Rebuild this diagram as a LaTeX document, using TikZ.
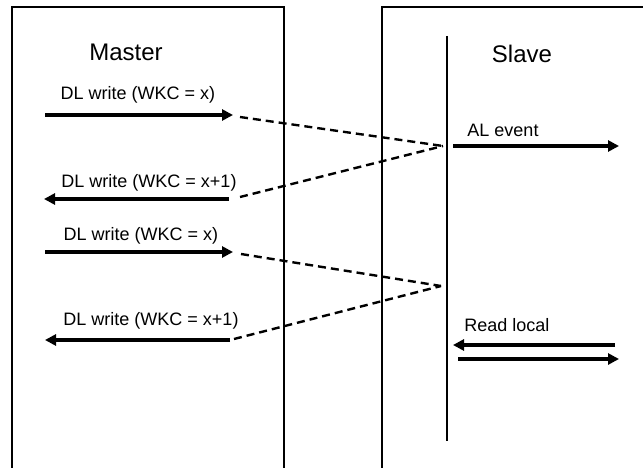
\documentclass[tikz,border=0pt]{standalone}
\usepackage{fontspec}
\setmainfont{Liberation Sans}
\usetikzlibrary{arrows.meta}
\begin{document}
\begin{tikzpicture}[x=1pt,y=-1pt,
  frame/.style={line width=2.4pt},
  msg/.style={line width=4pt,-{Triangle[length=11pt,width=11pt]}},
  link/.style={line width=2.4pt,dash pattern=on 8pt off 5pt},
  lbl/.style={font=\fontsize{18}{20}\selectfont,inner sep=0pt},
  ttl/.style={font=\fontsize{24}{26}\selectfont,inner sep=0pt}]
\useasboundingbox (0,0) rectangle (643,468);
% boxes
\draw[frame] (12,470) -- (12,7) -- (284,7) -- (284,470);
\draw[frame] (382,470) -- (382,7) -- (645,7);
% slave timeline
\coordinate (tlTop) at (447,36);
\coordinate (tlBot) at (447,441);
\draw[frame] (tlTop) -- (tlBot);
% titles
\node[ttl] (master) at (126,52) {Master};
\node[ttl] (slave) at (522,54) {Slave};
% coordinates
\coordinate (a1s) at (45,115);  \coordinate (a1e) at (233,115);
\coordinate (a2s) at (229,199); \coordinate (a2e) at (44,199);
\coordinate (a3s) at (45,252);  \coordinate (a3e) at (233,252);
\coordinate (a4s) at (230,340); \coordinate (a4e) at (45,340);
\coordinate (p1) at (443,146);
\coordinate (p2) at (441,286);
\coordinate (ev1) at (453,146); \coordinate (ev2) at (619,146);
\coordinate (rl1) at (615,345); \coordinate (rl2) at (453,345);
\coordinate (rr1) at (458,359); \coordinate (rr2) at (619,359);
% master arrows
\draw[msg] (a1s) -- (a1e);
\draw[msg] (a2s) -- (a2e);
\draw[msg] (a3s) -- (a3e);
\draw[msg] (a4s) -- (a4e);
% dashed links
\draw[link] (240,117) -- (p1);
\draw[link] (240,197) -- (p1);
\draw[link] (241,254) -- (p2);
\draw[link] (234,339) -- (p2);
% slave arrows
\draw[msg] (ev1) -- (ev2);
\draw[msg] (rl1) -- (rl2);
\draw[msg] (rr1) -- (rr2);
% labels
\node[lbl] (l1) at (138,95) {DL write (WKC = x)};
\node[lbl] (l2) at (149,183) {DL write (WKC = x+1)};
\node[lbl] (l3) at (141,236) {DL write (WKC = x)};
\node[lbl] (l4) at (151,321) {DL write (WKC = x+1)};
\node[lbl] (l5) at (503,130) {AL event};
\node[lbl] (l6) at (507,325) {Read local};
\end{tikzpicture}
\end{document}
